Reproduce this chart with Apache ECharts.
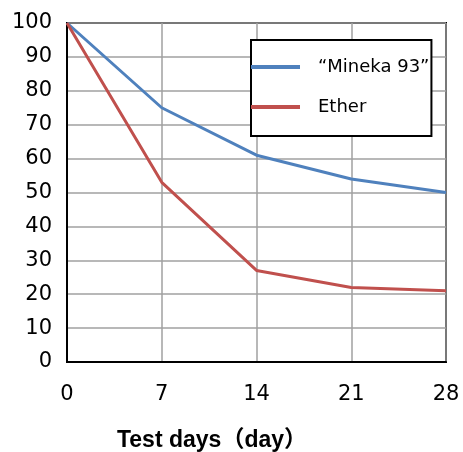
<!DOCTYPE html>
<html><head><meta charset="utf-8">
<script src="https://cdn.jsdelivr.net/npm/echarts@6/dist/echarts.min.js"></script>
<style>html,body{margin:0;padding:0;background:#fff}#c{width:463px;height:452px}</style>
</head><body><div id="c"></div>
<script>
const days = [0, 7, 14, 21, 28];
const minekaValues = [100, 75, 61, 54, 50];
const etherValues = [100, 53, 27, 22, 21];
const seriesNames = ['\u201cMineka 93\u201d', 'Ether'];
const xTitle = 'Test days\uff08day\uff09';

const chart = echarts.init(document.getElementById('c'));
const font = '"DejaVu Sans", "Noto Sans CJK JP", sans-serif';
chart.setOption({
  animation: false,
  backgroundColor: '#fff',
  grid: { left: 67, top: 23, width: 379, height: 339, show: true, borderColor: '#000', borderWidth: 2, backgroundColor: 'transparent' },
  xAxis: {
    type: 'value', min: 0, max: 28, interval: 7,
    axisLine: { show: true, lineStyle: { color: '#000', width: 2 } },
    axisTick: { show: false },
    axisLabel: { color: '#000', fontSize: 21, fontFamily: font, margin: 22 },
    splitLine: { show: true, lineStyle: { color: '#A0A0A0', width: 1.5 } }
  },
  yAxis: {
    type: 'value', min: 0, max: 100, interval: 10,
    axisLine: { show: true, lineStyle: { color: '#000', width: 2 } },
    axisTick: { show: false },
    axisLabel: { color: '#000', fontSize: 21, fontFamily: font, margin: 15 },
    splitLine: { show: true, lineStyle: { color: '#A0A0A0', width: 1.5 } }
  },
  legend: {
    orient: 'vertical', left: 251, top: 40,
    icon: 'rect', itemWidth: 49, itemHeight: 4, itemGap: 20,
    padding: [17, 2, 19, 0],
    borderColor: '#000', borderWidth: 2, backgroundColor: '#fff',
    textStyle: { fontSize: 18, fontFamily: font, color: '#000', lineHeight: 20, padding: [0, 0, 0, 13] },
    data: seriesNames
  },
  graphic: [{
    type: 'text', x: 212, y: 441,
    style: { text: xTitle, fontSize: 23, fontWeight: 'bold', fontFamily: '"Liberation Sans", "Noto Sans CJK JP", sans-serif', fill: '#000', align: 'center', verticalAlign: 'middle' }
  }],
  series: [
    { name: seriesNames[0], type: 'line', data: days.map((d, i) => [d, minekaValues[i]]), symbol: 'none', lineStyle: { color: '#4F81BD', width: 3 }, itemStyle: { color: '#4F81BD' } },
    { name: seriesNames[1], type: 'line', data: days.map((d, i) => [d, etherValues[i]]), symbol: 'none', lineStyle: { color: '#C0504D', width: 3 }, itemStyle: { color: '#C0504D' } }
  ]
});
</script></body></html>
